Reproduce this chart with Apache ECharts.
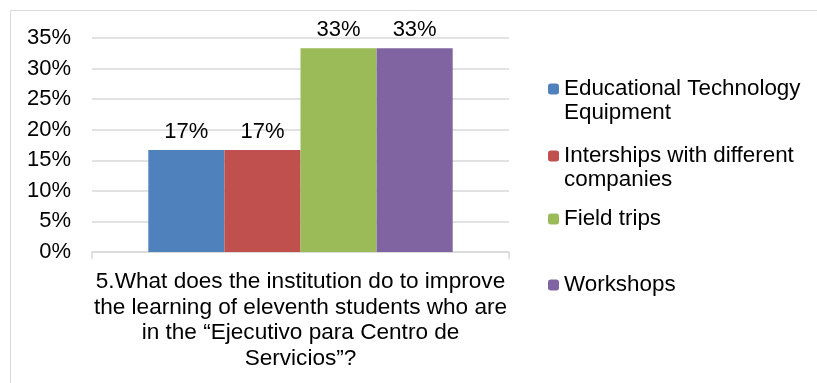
<!DOCTYPE html>
<html>
<head>
<meta charset="utf-8">
<script src="https://cdn.jsdelivr.net/npm/echarts@6/dist/echarts.min.js"></script>
<style>
  html, body { margin: 0; padding: 0; background: #fff; }
  #chart { width: 817px; height: 383px; }
</style>
</head>
<body>
<div id="chart"></div>
<script>
// Survey question (single category) and the share of answers per option
const categories = [
  '5.What does the institution do to improve\nthe learning of eleventh students who are\nin the \u201cEjecutivo para Centro de\nServicios\u201d?'
];
const seriesNames = [
  'Educational Technology\nEquipment',
  'Interships with different\ncompanies',
  'Field trips',
  'Workshops'
];
const seriesValues = [
  [0.1667],
  [0.1667],
  [0.3333],
  [0.3333]
];
const yTicks = { min: 0, max: 0.35, interval: 0.05 };

const colors = ['#4F81BD', '#C0504D', '#9BBB59', '#8064A2'];
const FONT = '"Liberation Sans", Arial, Helvetica, sans-serif';
const pct = v => Math.round(v * 100) + '%';

// one legend block per series; wrapped names get a leading empty line so
// the marker lines up with their first line of text
const legendTops = [53, 120, 207, 273];
const legends = seriesNames.map((name, i) => {
  const multiLine = name.indexOf('\n') >= 0;
  return {
    data: [name],
    orient: 'vertical',
    left: 548,
    top: legendTops[i],
    padding: 0,
    itemWidth: 11,
    itemHeight: 11,
    selectedMode: false,
    formatter: n => (multiLine ? '\n' + n : n),
    textStyle: {
      fontFamily: FONT,
      fontSize: 22.4,
      lineHeight: 24,
      color: '#000'
    }
  };
});

const chart = echarts.init(document.getElementById('chart'), null, { renderer: 'canvas' });
chart.setOption({
  animation: false,
  backgroundColor: '#fff',
  textStyle: { fontFamily: FONT },
  graphic: [{
    type: 'rect',
    shape: { x: 10.5, y: 10.5, width: 2000, height: 2000 },
    style: { fill: 'none', stroke: '#d9d9d9', lineWidth: 1 },
    silent: true
  }],
  grid: { left: 92, right: 308, top: 38, bottom: 131, containLabel: false },
  legend: legends,
  xAxis: {
    type: 'category',
    data: categories,
    axisLine: { lineStyle: { color: '#d9d9d9', width: 1.5 } },
    axisTick: { show: true, length: 7, lineStyle: { color: '#d9d9d9', width: 1.5 } },
    axisLabel: {
      interval: 0,
      margin: 17,
      fontFamily: FONT,
      fontSize: 22.6,
      lineHeight: 25.7,
      color: '#000',
      align: 'center'
    }
  },
  yAxis: {
    type: 'value',
    min: yTicks.min,
    max: yTicks.max,
    interval: yTicks.interval,
    axisLine: { show: false },
    axisTick: { show: false },
    splitLine: { lineStyle: { color: '#d9d9d9', width: 1.5 } },
    axisLabel: {
      margin: 21,
      fontFamily: FONT,
      fontSize: 22,
      color: '#000',
      formatter: v => pct(v)
    }
  },
  series: seriesNames.map((name, i) => ({
    type: 'bar',
    name: name,
    data: seriesValues[i],
    barGap: '0%',
    barCategoryGap: '27%',
    itemStyle: { color: colors[i] },
    label: {
      show: true,
      position: 'top',
      distance: 7,
      fontFamily: FONT,
      fontSize: 22,
      color: '#000',
      formatter: p => pct(p.value)
    }
  }))
});
</script>
</body>
</html>
